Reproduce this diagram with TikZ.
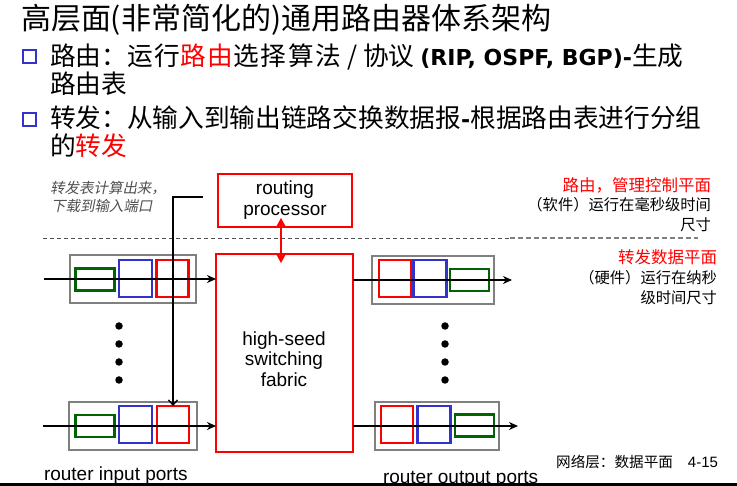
\documentclass[tikz,border=0pt]{standalone}
\usepackage{fontspec}
\setmainfont{Liberation Sans}
\newfontfamily\cjk{Noto Sans CJK SC}
\newfontfamily\cjkslant{Noto Sans CJK SC}[FakeSlant=0.2]
\newfontfamily\latinbold{DejaVu Sans}
\usetikzlibrary{arrows.meta}

\definecolor{rtred}{RGB}{255,0,0}
\definecolor{rtblue}{RGB}{51,51,204}
\definecolor{rtgreen}{RGB}{0,100,0}
\definecolor{rtgray}{RGB}{128,128,128}
\definecolor{notegray}{RGB}{80,80,80}
\definecolor{bulletblue}{RGB}{51,51,204}

\newcommand\setsz[1]{\fontsize{#1}{#1}\selectfont}
\newcommand\bl[1]{{\latinbold\bfseries\setsz{22}#1}}
\newcommand\wide[1]{{\addfontfeature{LetterSpace=7}#1}}

\begin{document}
\begin{tikzpicture}[x=1pt,y=-1pt,
  every node/.style={inner sep=0pt, outer sep=0pt},
  portframe/.style={draw=rtgray, line width=1.6pt, minimum width=#1, minimum height=48pt},
  qgreen/.style={draw=rtgreen, line width=2.2pt, minimum width=39pt, minimum height=22pt},
  qblue/.style={draw=rtblue, line width=2.2pt, minimum width=33pt, minimum height=37pt},
  qred/.style={draw=rtred, line width=2.2pt, minimum width=32pt, minimum height=37pt},
  redbox/.style={draw=rtred, line width=2.8pt},
  flow/.style={line width=1.8pt, -{Stealth[length=9pt,width=8pt]}},
  ctrl/.style={line width=1.4pt, -{Straight Barb[length=5pt,width=9pt]}},
  dot/.style={circle, fill=black, minimum size=7.5pt},
  bullet/.style={draw=bulletblue, line width=2pt, minimum width=13pt, minimum height=13pt},
  bodyline/.style={anchor=west, font=\cjk\setsz{25.7}},
  sidenote/.style={anchor=east, font=\cjk\setsz{15.3}},
  sidehead/.style={anchor=east, text=rtred, font=\cjk\setsz{16.5}},
  portlabel/.style={anchor=base west, font=\setsz{19}},
  lbl/.style={align=center, font={\fontsize{19}{20.5}\selectfont}},
]
\useasboundingbox (0,0) rectangle (737,486);
\fill[white] (0,0) rectangle (737,486);

% ---------- heading and bullet text ----------
\node[anchor=west, font=\cjk\setsz{30}] (title) at (21,20) {高层面(非常简化的)通用路由器体系架构};

\node[bullet] (b1) at (29.5,57) {};
\node[bodyline] (l1) at (50,57) {路由：\wide{运行{\color{rtred}路由}选择算法} / 协议 \bl{(RIP, OSPF, BGP)-}生成};
\node[bodyline] (l2) at (50,84) {路由表};
\node[bullet] (b2) at (29.5,120) {};
\node[bodyline] (l3) at (50,118) {转发：从输入到输出链路交换数据报\bl{-}根据路由表进行分组};
\node[bodyline] (l4) at (50,146) {的{\color{rtred}转发}};

% ---------- control / data plane separator ----------
\draw[notegray, dash pattern=on 4pt off 3pt, line width=0.9pt] (43,238) -- (510,238);
\draw[rtgray, dash pattern=on 5pt off 3pt, line width=1.4pt] (510,238) -- (698,238);

% ---------- plane descriptions ----------
\node[sidehead] (ctlhead) at (711,185) {路由，管理控制平面};
\node[sidenote] (ctl1) at (711,205) {（软件）运行在毫秒级时间};
\node[sidenote] (ctl2) at (711,225) {尺寸};
\node[sidehead] (datahead) at (717,257) {转发数据平面};
\node[sidenote] (data1) at (717,278) {（硬件）运行在纳秒};
\node[sidenote] (data2) at (717,298) {级时间尺寸};

\node[anchor=west, text=notegray, font=\cjkslant\setsz{14.5}] (note1) at (50,188) {转发表计算出来，};
\node[anchor=west, text=notegray, font=\cjkslant\setsz{14.5}] (note2) at (51,206) {下载到输入端口};

% ---------- routing processor and switching fabric ----------
\node[redbox, minimum width=134pt, minimum height=53pt] (proc) at (285,200.5) {};
\node[lbl] (proctext) at (285,200) {routing\\processor};
\node[redbox, minimum width=137pt, minimum height=198pt] (fab) at (284.5,353) {};
\node[lbl] (fabtext) at (284,359) {high-seed\\switching\\fabric};

\draw[rtred, line width=2.5pt, {Stealth[length=10pt,width=11pt]}-{Stealth[length=10pt,width=11pt]},
      shorten <=-9pt, shorten >=-9pt]
  ([xshift=-4pt]proc.south) -- ([xshift=-4pt]proc.south |- fab.north);

% ---------- input ports ----------
\node[portframe=126pt] (inP1) at (133,279) {};
\node[qgreen] (inG1) at (95,279.5) {};
\node[qblue] (inB1) at (135.5,278.5) {};
\node[qred] (inR1) at (172.5,278.5) {};

\node[portframe=128pt] (inP2) at (133,426) {};
\node[qgreen] (inG2) at (95,426) {};
\node[qblue] (inB2) at (135.5,424.5) {};
\node[qred] (inR2) at (173,424.5) {};

% ---------- output ports ----------
\node[portframe=122pt] (outP1) at (433,280) {};
\node[qred] (outR1) at (395,278.5) {};
\node[qblue] (outB1) at (430,278.5) {};
\node[qgreen] (outG1) at (469.5,280) {};

\node[portframe=124pt] (outP2) at (437,426) {};
\node[qred] (outR2) at (397,424.5) {};
\node[qblue] (outB2) at (434,424.5) {};
\node[qgreen] (outG2) at (474.5,425.5) {};

% ---------- ellipsis dots ----------
\foreach \i/\yy in {1/326,2/344,3/362,4/380} {
  \node[dot] (ldot\i) at (119,\yy) {};
  \node[dot] (rdot\i) at (445,\yy) {};
}

% ---------- datagram flow ----------
\coordinate (inA) at (44,279);
\coordinate (inB) at (43,426);
\coordinate (outA) at (512,280);
\coordinate (outB) at (518,426);
\draw[flow] (inA) -- (inA -| fab.west);
\draw[flow] (inB) -- (inB -| fab.west);
\draw[flow] (fab.east |- outA) -- (outA);
\draw[flow] (fab.east |- outB) -- (outB);

% forwarding table pushed down to the input port
\coordinate (ctlstart) at (203,197);
\draw[ctrl] (ctlstart) -- (ctlstart -| inR2.north) -- (inR2.north);

% ---------- captions ----------
\node[portlabel] (inlabel) at (44,480) {router input ports};
\node[portlabel] (outlabel) at (383,483) {router output ports};
\node[anchor=east] (footer) at (718,462) {{\cjk\setsz{14.6}网络层：数据平面}\hspace{15pt}{\setsz{15}4-15}};

\draw[line width=3pt] (0,484.5) -- (737,484.5);
\end{tikzpicture}
\end{document}
